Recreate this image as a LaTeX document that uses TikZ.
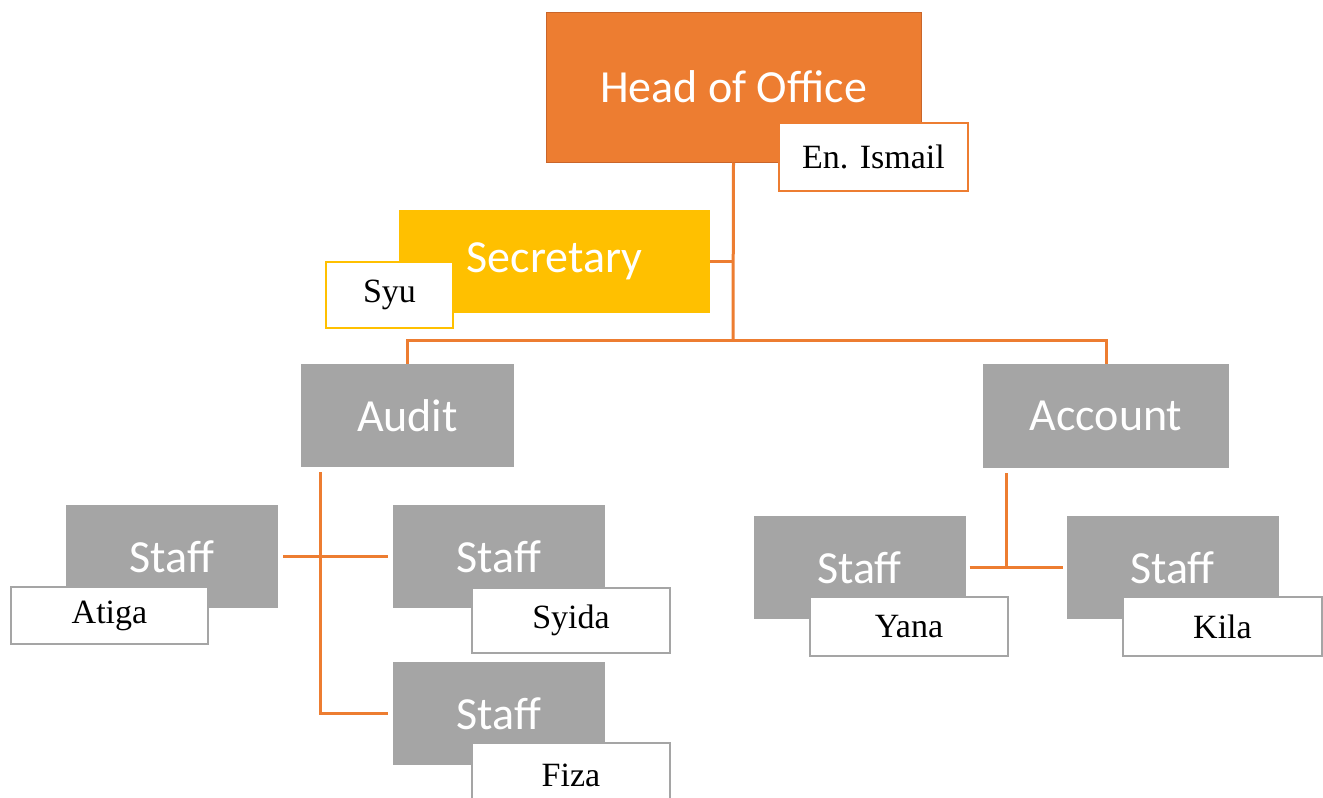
\documentclass[tikz,border=0pt]{standalone}
\usepackage{fontspec}
\setmainfont{Liberation Serif}
\newfontfamily\boxfont{Carlito}
\usepackage{tikz}
\usetikzlibrary{positioning, calc}
\definecolor{offorange}{HTML}{ED7D31}
\definecolor{offorangedark}{HTML}{C9652A}
\definecolor{offyellow}{HTML}{FFC000}
\definecolor{offgrey}{HTML}{A5A5A5}
\tikzstyle{postbox} = [rectangle, inner sep=0pt, text=white, font=\boxfont\fontsize{46}{50}\selectfont]
\tikzstyle{headbox} = [postbox, fill=offorange, draw=offorangedark, line width=1pt, minimum width=375pt, minimum height=150pt]
\tikzstyle{secbox} = [postbox, fill=offyellow, minimum width=311pt, minimum height=103pt]
\tikzstyle{unitbox} = [postbox, fill=offgrey, minimum width=213pt, minimum height=103pt]
\tikzstyle{staffbox} = [postbox, fill=offgrey, minimum width=212pt, minimum height=103pt]
\tikzstyle{nametag} = [rectangle, inner sep=0pt, fill=white, line width=2pt, draw=offgrey, text=black, font=\fontsize{34}{38}\selectfont, minimum width=198pt, minimum height=59pt]
\tikzstyle{conn} = [draw=offorange, line width=3pt]

\begin{document}
\begin{tikzpicture}[x=1pt,y=-1pt]
    \useasboundingbox[fill=white] (0,0) rectangle (1323,798);

    % top of the chart
    \node[headbox] (head) at (733.5,87) {Head of Office};
    \node[nametag, draw=offorange, minimum width=189pt, minimum height=68pt] (tag-head) at (873.5,156.5) {En. Ismail};
    \node[secbox] (sec) at (554.5,261.5) {Secretary};
    \node[nametag, draw=offyellow, minimum width=127pt, minimum height=66pt] (tag-sec) at (389.5,295) {Syu};

    \node[unitbox] (audit) at (407.5,415.5) {Audit};
    \node[unitbox, minimum width=246pt, minimum height=104pt] (account) at (1106,416) {Account};

    % audit staff
    \node[staffbox] (staff-1) at (172,556.5) {Staff};
    \node[staffbox] (staff-2) at (499,556.5) {Staff};
    \node[staffbox] (staff-3) at (499,713.5) {Staff};
    \node[nametag, minimum width=197pt, minimum height=57pt] (tag-1) at (109.5,615.5) {Atiga};
    \node[nametag, minimum height=65pt] (tag-2) at (571,620.5) {Syida};
    \node[nametag, minimum height=64pt] (tag-3) at (571,775) {Fiza};

    % account staff
    \node[staffbox] (staff-4) at (859.5,567.5) {Staff};
    \node[staffbox] (staff-5) at (1172.5,567.5) {Staff};
    \node[nametag] (tag-4) at (909,626.5) {Yana};
    \node[nametag, minimum width=199pt] (tag-5) at (1222.5,626.5) {Kila};

    \coordinate (bus) at (733,340);
    \coordinate (audit-down) at ($(audit.south west)+(19.5,5)$);
    \coordinate (account-down) at ($(account.south west)+(23.5,5)$);

    \draw[conn] (head.south) -- (bus);
    \draw[conn] (sec.east) -- (sec.east -| bus);
    \draw[conn] (audit.north) |- (bus) -| (account.north);

    \draw[conn] (audit-down) |- ([xshift=-5pt]staff-3.west);
    \draw[conn, shorten <=5pt, shorten >=5pt] (staff-1.east) -- (staff-2.west);

    \draw[conn] (account-down) -- (account-down |- staff-4.east);
    \draw[conn, shorten <=4pt, shorten >=3pt] (staff-4.east) -- (staff-5.west);
\end{tikzpicture}
\end{document}
